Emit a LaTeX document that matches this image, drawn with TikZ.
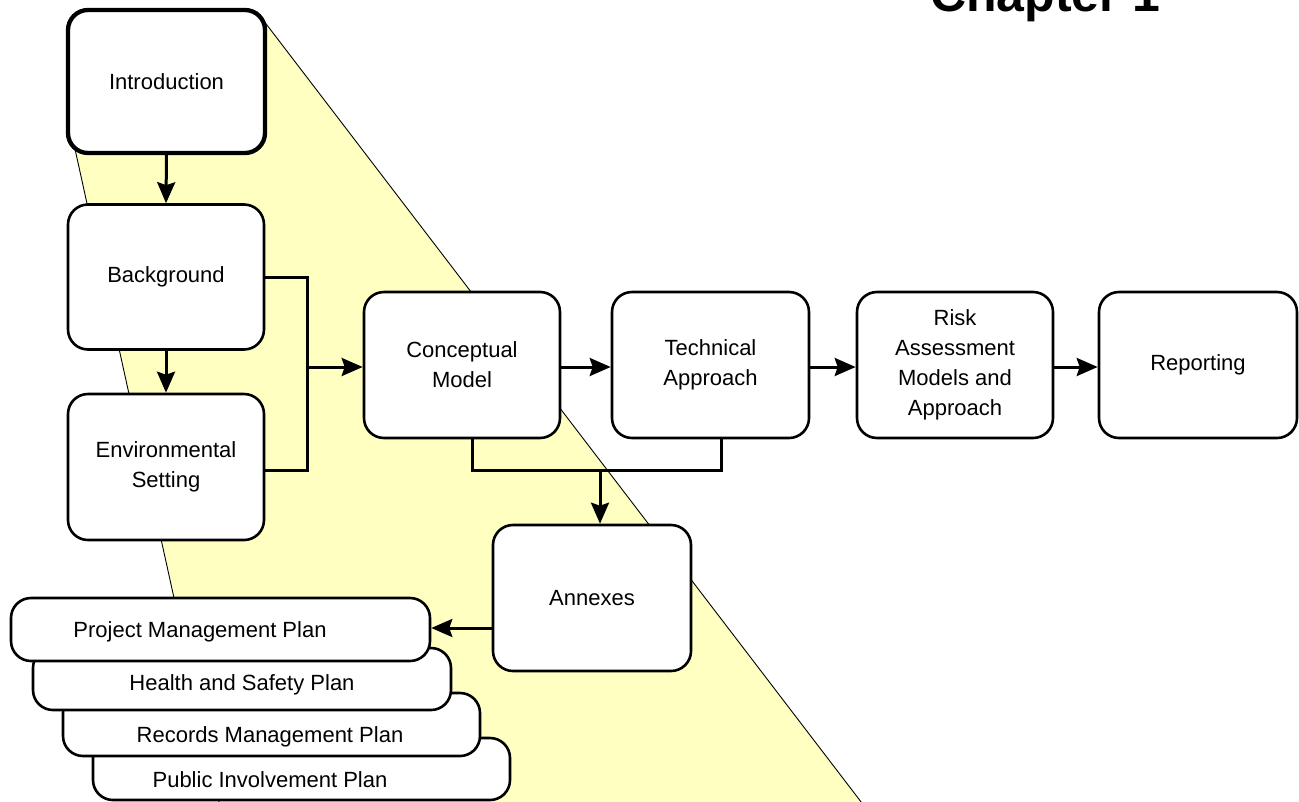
\documentclass[tikz,border=0pt]{standalone}
\usepackage{fontspec}
\setmainfont{Liberation Sans}
\usetikzlibrary{arrows.meta}
\definecolor{band}{RGB}{255,255,194}
\begin{document}
\begin{tikzpicture}[x=1pt,y=-1pt,
  box/.style={draw, line width=2.6pt, rounded corners=20pt, fill=white,
    minimum width=196pt, minimum height=146pt, inner sep=2pt, align=center,
    font=\fontsize{22}{30}\selectfont},
  planbox/.style={draw, line width=2.6pt, rounded corners=20pt, fill=white,
    minimum height=63pt, inner sep=0pt},
  plantext/.style={anchor=base, inner sep=0pt, font=\fontsize{22}{30}\selectfont},
  link/.style={line width=3pt},
  arr/.style={line width=3pt, -{Stealth[length=21pt,width=18pt,inset=3pt]}}
]
\useasboundingbox (0,0) rectangle (1299,801);

% highlighted band behind the first chapter
\begin{scope}
  \clip (0,0) rectangle (1299,801);
  \filldraw[fill=band, draw=black, line width=0.9pt]
    (257,12) -- (868,811) -- (221,811) -- (73,140) -- cycle;
\end{scope}

% title
\node[anchor=base west, inner sep=0pt, font=\fontsize{50}{60}\selectfont\bfseries]
  (title) at (930,11) {Chapter 1};

% left column
\node[box, line width=4.3pt, minimum width=197pt, minimum height=143pt]
  (intro) at (166.5,81.5) {Introduction};
\node[box, minimum height=145pt] (bg) at (166,277) {Background};
\node[box] (env) at (166,467) {Environmental\\Setting};

% main row
\node[box] (cm) at (462,365) {Conceptual\\Model};
\node[box, minimum width=197pt] (ta) at (710.5,365) {Technical\\Approach};
\node[box] (ra) at (955,365) {Risk\\Assessment\\Models and\\Approach};
\node[box, minimum width=198pt] (rep) at (1198,365) {Reporting};

% annexes
\node[box, minimum width=198pt] (ax) at (592,598) {Annexes};

% stacked plans, back to front
\node[planbox, minimum width=417pt, minimum height=62pt] (pip) at (301.5,769) {};
\node[plantext] (pip-t) at (270,787) {Public Involvement Plan};
\node[planbox, minimum width=417pt] (rmp) at (271.5,724.5) {};
\node[plantext] (rmp-t) at (270,742) {Records Management Plan};
\node[planbox, minimum width=418pt, minimum height=62pt] (hsp) at (242,679) {};
\node[plantext] (hsp-t) at (242,690) {Health and Safety Plan};
\node[planbox, minimum width=419pt] (pmp) at (220.5,629.5) {};
\node[plantext] (pmp-t) at (200,637) {Project Management Plan};

% connectors: left column
\draw[arr] (intro.south) -- (bg.north);
\draw[arr] (bg.south) -- (env.north);

\coordinate (jt) at (307,277);
\coordinate (jb) at (307,470);
\coordinate (jm) at (307,367);
\draw[link] (bg.east) -- (jt) -- (jb) -- (env.east |- jb);
\draw[arr] (jm) -- (jm -| cm.west);

% connectors: main row
\coordinate (row) at (0,367);
\draw[arr] (cm.east |- row) -- (ta.west |- row);
\draw[arr] (ta.east |- row) -- (ra.west |- row);
\draw[arr] (ra.east |- row) -- (rep.west |- row);

% connectors: down to annexes
\coordinate (cl) at (472,470);
\coordinate (cr) at (721,470);
\coordinate (cd) at (600,470);
\draw[link] (cl |- cm.south) -- (cl) -- (cr) -- (cr |- ta.south);
\draw[arr] (cd) -- (cd |- ax.north);

% annexes to plans
\coordinate (pl) at (0,628);
\draw[arr] (ax.west |- pl) -- (pmp.east |- pl);
\end{tikzpicture}
\end{document}
